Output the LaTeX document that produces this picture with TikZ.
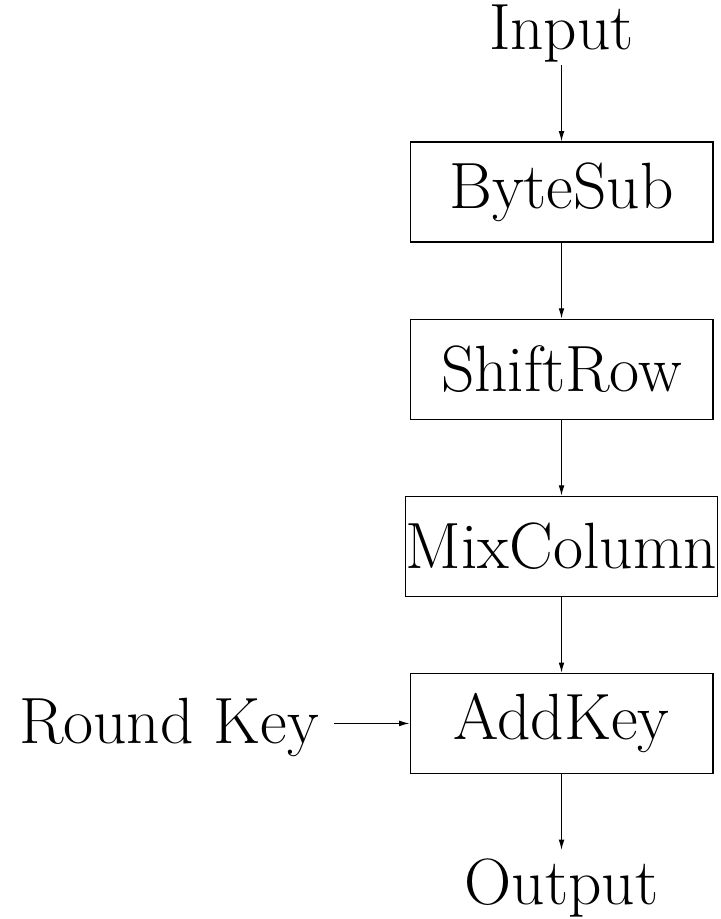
\documentclass[tikz,border=0pt]{standalone}
\usepackage{tikz}
\usetikzlibrary{positioning,arrows.meta}

\begin{document}
\begin{tikzpicture}[x=0.35pt, y=-0.35pt, font=\fontsize{22.9}{27}\selectfont, node distance=26.6pt,
  stage/.style={draw, thin, shape=rectangle, minimum width=106pt, minimum height=35pt, inner sep=0pt},
  io/.style={inner sep=1pt},
  flow/.style={-{Latex[length=3.6pt,width=2pt]}, thin}]
\useasboundingbox (0,0) rectangle (720,919);
\node[stage] (bytesub) at (561.5,192) {ByteSub};
\node[io, above=of bytesub] (input) {Input};
\node[stage, below=of bytesub] (shiftrow) {ShiftRow};
\node[stage, below=of shiftrow] (mixcol) {MixColumn};
\node[stage, below=of mixcol] (addkey) {AddKey};
\node[io, inner sep=3pt, below=of addkey] (output) {Output};
\node[io, inner sep=5pt, left=26.5pt of addkey, yshift=-1.5pt] (roundkey) {Round Key};
% data path
\draw[flow] (input) -- (bytesub);
\draw[flow] (bytesub) -- (shiftrow);
\draw[flow] (shiftrow) -- (mixcol);
\draw[flow] (mixcol) -- (addkey);
\draw[flow] (addkey) -- (output);
\draw[flow] (roundkey.east |- addkey) -- (addkey);
\end{tikzpicture}
\end{document}
